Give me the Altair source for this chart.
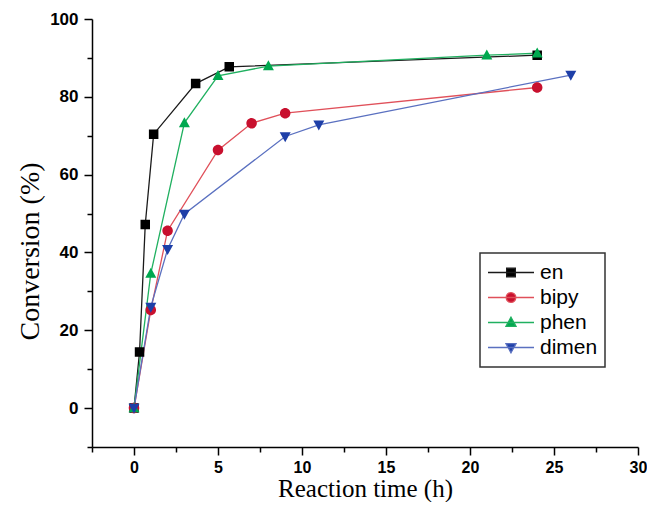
import altair as alt
import pandas as pd

series = ["en", "bipy", "phen", "dimen"]

en_x = [0, 0.33, 0.67, 1.17, 3.67, 5.67, 24]
en_y = [0, 14.4, 47.2, 70.4, 83.4, 87.7, 90.7]
bipy_x = [0, 1, 2, 5, 7, 9, 24]
bipy_y = [0, 25.2, 45.6, 66.3, 73.2, 75.8, 82.4]
phen_x = [0, 1, 3, 5, 8, 21, 24]
phen_y = [0, 34.6, 73.3, 85.4, 87.9, 90.7, 91.2]
dimen_x = [0, 1, 2, 3, 9, 11, 26]
dimen_y = [0, 26.0, 40.8, 49.9, 69.8, 72.8, 85.6]

fill_colors = ["#000000", "#c8102e", "#00a84f", "#1e3fa8"]
line_colors = ["#1a1a1a", "#e0505a", "#20b060", "#5a70c0"]

# marker shapes (with a legend line stub drawn only by the stroke)
shapes = [
    "M-1,0H1M-0.19,-0.19H0.19V0.19H-0.19Z",
    "M-1,0H1M-0.21,0A0.21,0.21,0,1,0,0.21,0A0.21,0.21,0,1,0,-0.21,0Z",
    "M-1,0H1M0,-0.23L0.22,0.17H-0.22Z",
    "M-1,0H1M0,0.23L0.22,-0.17H-0.22Z",
]

x_ticks = [-2.5, 0, 2.5, 5, 7.5, 10, 12.5, 15, 17.5, 20, 22.5, 25, 27.5, 30]
y_ticks = [-10, 0, 10, 20, 30, 40, 50, 60, 70, 80, 90, 100]

rows = []
for name, xs, ys, lc in [("en", en_x, en_y, line_colors[0]), ("bipy", bipy_x, bipy_y, line_colors[1]),
                         ("phen", phen_x, phen_y, line_colors[2]), ("dimen", dimen_x, dimen_y, line_colors[3])]:
    for xv, yv in zip(xs, ys):
        rows.append({"series": name, "t": xv, "conv": yv, "lc": lc})
df = pd.DataFrame(rows)

x_enc = alt.X("t:Q", scale=alt.Scale(domain=[-2.5, 30], nice=False, zero=False),
              axis=alt.Axis(values=x_ticks, title="Reaction time (h)",
                            labelExpr="datum.value % 5 == 0 && datum.value >= 0 ? datum.label : ''",
                            tickDash={"condition": {"test": "datum.value % 5 != 0", "value": [5, 40]}, "value": []},
                            tickSize=8, labelPadding=4, labelFlush=False, labelOverlap=False,
                            labelFontSize=16, titleFontSize=25,
                            titleY=49, titleBaseline="alphabetic"))
y_enc = alt.Y("conv:Q", scale=alt.Scale(domain=[-10, 100], nice=False, zero=False),
              axis=alt.Axis(values=y_ticks, title="Conversion (%)",
                            labelExpr="datum.value % 20 == 0 && datum.value >= 0 ? datum.label : ''",
                            tickDash={"condition": {"test": "datum.value % 20 != 0", "value": [5, 40]}, "value": []},
                            tickSize=8, labelPadding=6, labelFlush=False, labelOverlap=False,
                            labelFontSize=17, titleFontSize=28,
                            titleX=-62, titleY=232, titleAlign="center", titleBaseline="middle",
                            titleAngle=270))

stroke_scale = alt.Scale(domain=series, range=line_colors)
fill_scale = alt.Scale(domain=series, range=fill_colors)
shape_scale = alt.Scale(domain=series, range=shapes)

leg = alt.Legend(title=None, orient="none", legendX=388, legendY=234,
                 symbolSize=2116, symbolStrokeWidth=1.3, labelFontSize=21,
                 labelFont="Liberation Sans", labelColor="black", labelOffset=5,
                 padding=7, rowPadding=0, clipHeight=25,
                 strokeColor="#333333", symbolOpacity=1)

lines = alt.Chart(df).mark_line(strokeWidth=1.3).encode(
    x=x_enc, y=y_enc,
    color=alt.Color("lc:N", scale=None),
    order=alt.Order("t:Q"),
)

points = alt.Chart(df).mark_point(filled=True, size=2500, opacity=1).encode(
    x=x_enc, y=y_enc,
    fill=alt.Fill("series:N", scale=fill_scale, legend=leg),
    shape=alt.Shape("series:N", scale=shape_scale, legend=leg),
    stroke=alt.Stroke("series:N", scale=stroke_scale, legend=leg),
    strokeWidth=alt.value(0),
)

chart = alt.layer(lines, points).properties(
    width=546, height=428,
    autosize=alt.AutoSizeParams(type="none"),
    padding={"left": 84, "top": 11, "right": 9, "bottom": 55},
).configure_view(stroke=None).configure_axis(
    grid=False, domainColor="black", domainWidth=1.5, tickColor="black", tickWidth=1.5,
    labelFont="Liberation Sans", labelFontWeight="bold", labelColor="black",
    titleFont="Liberation Serif", titleFontWeight="normal", titleColor="black",
).configure_legend(strokeWidth=1.5)

chart.save("out.html", embed_options={"renderer": "svg", "actions": False})
